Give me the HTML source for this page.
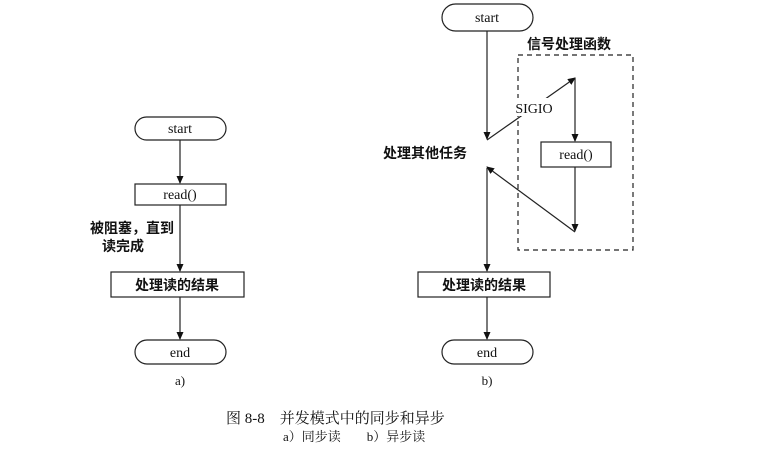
<!DOCTYPE html>
<html><head><meta charset="utf-8"><style>
html,body{margin:0;padding:0;background:#fff;}
svg{display:block;}
text{font-family:"Liberation Serif","Noto Serif CJK SC",serif;fill:#111;}
.cj{font-family:"Liberation Serif","Noto Sans CJK SC",sans-serif;font-weight:bold;}
</style></head><body>
<svg width="773" height="467" viewBox="0 0 773 467" xmlns="http://www.w3.org/2000/svg">
<defs>
<marker id="a" markerWidth="8" markerHeight="8" refX="7" refY="4" orient="auto" markerUnits="userSpaceOnUse">
<path d="M0,0.5 L8,4 L0,7.5 Z" fill="#111"/></marker>
</defs>
<g stroke="#222" stroke-width="1.2" fill="none">
<!-- left -->
<rect x="135" y="117" width="91" height="23" rx="11.5"/>
<line x1="180" y1="140" x2="180" y2="183" marker-end="url(#a)"/>
<rect x="135" y="184" width="91" height="21"/>
<line x1="180" y1="205" x2="180" y2="271" marker-end="url(#a)"/>
<rect x="111" y="272" width="133" height="25"/>
<line x1="180" y1="297" x2="180" y2="339" marker-end="url(#a)"/>
<rect x="135" y="340" width="91" height="24" rx="12"/>
<!-- right -->
<rect x="442" y="4" width="91" height="27" rx="13.5"/>
<line x1="487" y1="31" x2="487" y2="139" marker-end="url(#a)"/>
<line x1="487" y1="140" x2="575" y2="78" marker-end="url(#a)"/>
<line x1="575" y1="78" x2="575" y2="141" marker-end="url(#a)"/>
<rect x="541" y="142" width="70" height="25"/>
<line x1="575" y1="167" x2="575" y2="231" marker-end="url(#a)"/>
<line x1="575" y1="232" x2="487" y2="167" marker-end="url(#a)"/>
<line x1="487" y1="168" x2="487" y2="271" marker-end="url(#a)"/>
<rect x="418" y="272" width="132" height="25"/>
<line x1="487" y1="297" x2="487" y2="339" marker-end="url(#a)"/>
<rect x="442" y="340" width="91" height="24" rx="12"/>
<rect x="518" y="55" width="115" height="195" stroke-dasharray="5,4"/>
</g>
<rect x="510" y="98" width="48" height="18" fill="#fff"/>
<g font-size="14" text-anchor="middle">
<text x="180" y="133">start</text>
<text x="180" y="199">read()</text>
<text x="177" y="290" class="cj">处理读的结果</text>
<text x="180" y="357">end</text>
<text x="180" y="385" font-size="13">a)</text>
<text x="487" y="22">start</text>
<text x="576" y="159">read()</text>
<text x="484" y="290" class="cj">处理读的结果</text>
<text x="487" y="357">end</text>
<text x="487" y="385" font-size="13">b)</text>
<text x="534" y="113">SIGIO</text>
</g>
<g class="cj" font-size="14">
<text x="90" y="233" class="cj">被阻塞，直到</text>
<text x="102" y="251" class="cj">读完成</text>
<text x="383" y="158" class="cj">处理其他任务</text>
<text x="527" y="49" class="cj">信号处理函数</text>
</g>
<text x="226" y="423" font-size="15" font-family="Liberation Serif, Noto Serif CJK SC, serif">图 8-8　并发模式中的同步和异步</text>
<text x="283" y="441" font-size="13" font-family="Liberation Serif, Noto Serif CJK SC, serif">a）同步读　　b）异步读</text>
</svg>
</body></html>
